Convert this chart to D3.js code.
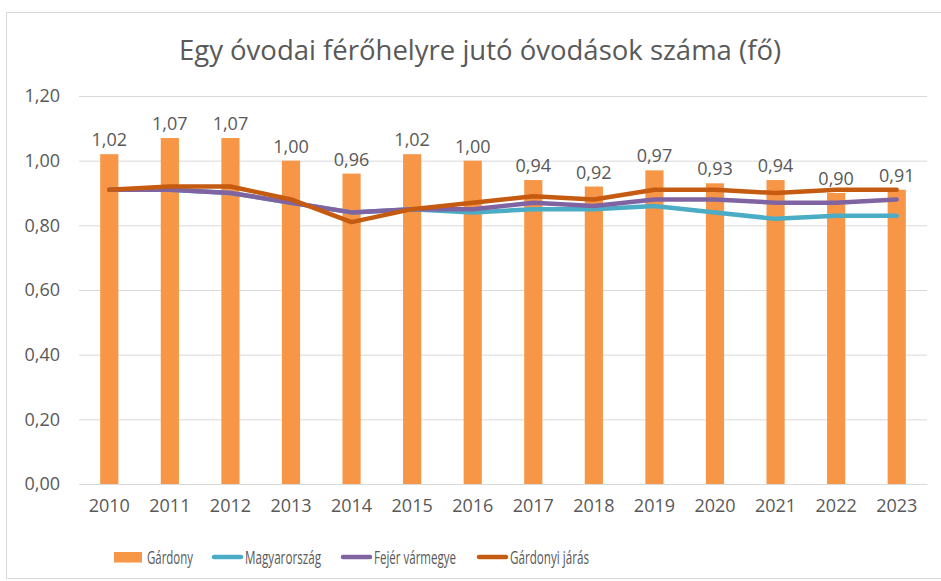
<!DOCTYPE html>
<html>
<head>
<meta charset="utf-8">
<script src="https://cdn.jsdelivr.net/npm/d3@7/dist/d3.min.js"></script>
<style>
  body { margin: 0; background: #fff; }
  text { font-family: "Open Sans", sans-serif; fill: #595959; }
</style>
</head>
<body>
<script>

    var years = ["2010","2011","2012","2013","2014","2015","2016","2017","2018","2019","2020","2021","2022","2023"];
    var gardony = [1.02,1.07,1.07,1.00,0.96,1.02,1.00,0.94,0.92,0.97,0.93,0.94,0.90,0.91];
    var magyarorszag = [0.91,0.91,0.90,0.87,0.84,0.85,0.84,0.85,0.85,0.86,0.84,0.82,0.83,0.83];
    var fejer = [0.91,0.91,0.90,0.87,0.84,0.85,0.85,0.87,0.86,0.88,0.88,0.87,0.87,0.88];
    var jaras = [0.91,0.92,0.92,0.88,0.81,0.85,0.87,0.89,0.88,0.91,0.91,0.90,0.91,0.91];
    var yTicks = [0, 0.2, 0.4, 0.6, 0.8, 1.0, 1.2];
    var title = "Egy óvodai férőhelyre jutó óvodások száma (fő)";

    var width = 941,
        height = 581,
        plotLeft = 79,
        plotRight = 927,
        plotTop = 96,
        plotBottom = 484

    var fmt = d3.formatLocale({decimal: ",", thousands: " ", grouping: [3], currency: ["", " Ft"]}).format(".2f");

    var svg = d3.select("body")
                .append("svg")
                .attr("width", width)
                .attr("height", height);

    // chart frame
    svg.append("rect")
       .attr("x", 6.5).attr("y", 12.5)
       .attr("width", 950).attr("height", 566)
       .attr("fill", "none")
       .attr("stroke", "#d9d9d9");

    svg.append("text")
       .attr("x", 480).attr("y", 60)
       .attr("text-anchor", "middle")
       .attr("font-size", 27.5)
       .text(title);

    var x = d3.scaleBand()
              .domain(years)
              .range([plotLeft, plotRight])
              .paddingInner(0.7)
              .paddingOuter(0.35);

    var y = d3.scaleLinear()
              .domain([0, 1.2])
              .range([plotBottom, plotTop]);

    var cx = (d) => x(d) + x.bandwidth() / 2;

    // gridlines + y labels
    var yAxis = svg.append("g")
                   .attr("transform", "translate(" + plotLeft + ",0)")
                   .call(d3.axisLeft(y).tickValues(yTicks).tickFormat(fmt)
                           .tickSize(-(plotRight - plotLeft)).tickPadding(19));
    yAxis.select(".domain").remove();
    yAxis.selectAll("line").attr("stroke", "#d9d9d9");
    yAxis.selectAll("text").attr("font-size", 18).attr("fill", "#595959").attr("font-family", "Open Sans, sans-serif");

    // bars
    svg.selectAll("rect.bar")
       .data(gardony)
       .enter()
       .append("rect")
       .attr("class", "bar")
       .attr("x", (d, i) => x(years[i]))
       .attr("width", x.bandwidth())
       .attr("y", (d) => y(d))
       .attr("height", (d) => plotBottom - y(d))
       .attr("fill", "#F79646");

    // x axis
    var xAxis = svg.append("g")
                   .attr("transform", "translate(0," + plotBottom + ")")
                   .call(d3.axisBottom(x).tickSize(0).tickPadding(15));
    xAxis.select(".domain").attr("stroke", "#d9d9d9");
    xAxis.selectAll("text").attr("font-size", 18).attr("fill", "#595959").attr("font-family", "Open Sans, sans-serif");

    // lines
    var series = [
        {name: "Magyarország", values: magyarorszag, color: "#4BACC6"},
        {name: "Fejér vármegye", values: fejer, color: "#8064A2"},
        {name: "Gárdonyi járás", values: jaras, color: "#C55A11"}
    ];

    var line = d3.line()
                 .x((d, i) => cx(years[i]))
                 .y((d) => y(d));

    series.forEach((s) => {
        svg.append("path")
           .datum(s.values)
           .attr("d", line)
           .attr("fill", "none")
           .attr("stroke", s.color)
           .attr("stroke-width", 4.5)
           .attr("stroke-linejoin", "round")
           .attr("stroke-linecap", "round");
    });

    // bar value labels
    svg.selectAll("text.val")
       .data(gardony)
       .enter()
       .append("text")
       .attr("class", "val")
       .attr("x", (d, i) => cx(years[i]))
       .attr("y", (d) => y(d) - 8)
       .attr("text-anchor", "middle")
       .attr("font-size", 18)
       .text((d) => fmt(d));

    // legend
    var legend = [
        {name: "Gárdony", color: "#F79646", type: "bar", x: 114, w: 46},
        {name: "Magyarország", color: "#4BACC6", type: "line", x: 212, w: 76},
        {name: "Fejér vármegye", color: "#8064A2", type: "line", x: 341, w: 82},
        {name: "Gárdonyi járás", color: "#C55A11", type: "line", x: 477, w: 79}
    ];
    var ly = 557;
    legend.forEach((l) => {
        if (l.type == "bar") {
            svg.append("rect")
               .attr("x", l.x).attr("y", ly - 5)
               .attr("width", 28).attr("height", 10.5)
               .attr("fill", l.color);
        } else {
            svg.append("line")
               .attr("x1", l.x + 2).attr("x2", l.x + 29)
               .attr("y1", ly).attr("y2", ly)
               .attr("stroke", l.color)
               .attr("stroke-width", 4.5)
               .attr("stroke-linecap", "round");
        }
        svg.append("text")
           .attr("x", l.x + 33).attr("y", ly + 7)
           .attr("font-size", 18)
           .attr("textLength", l.w)
           .attr("lengthAdjust", "spacingAndGlyphs")
           .text(l.name);
    });

</script>
</body>
</html>
